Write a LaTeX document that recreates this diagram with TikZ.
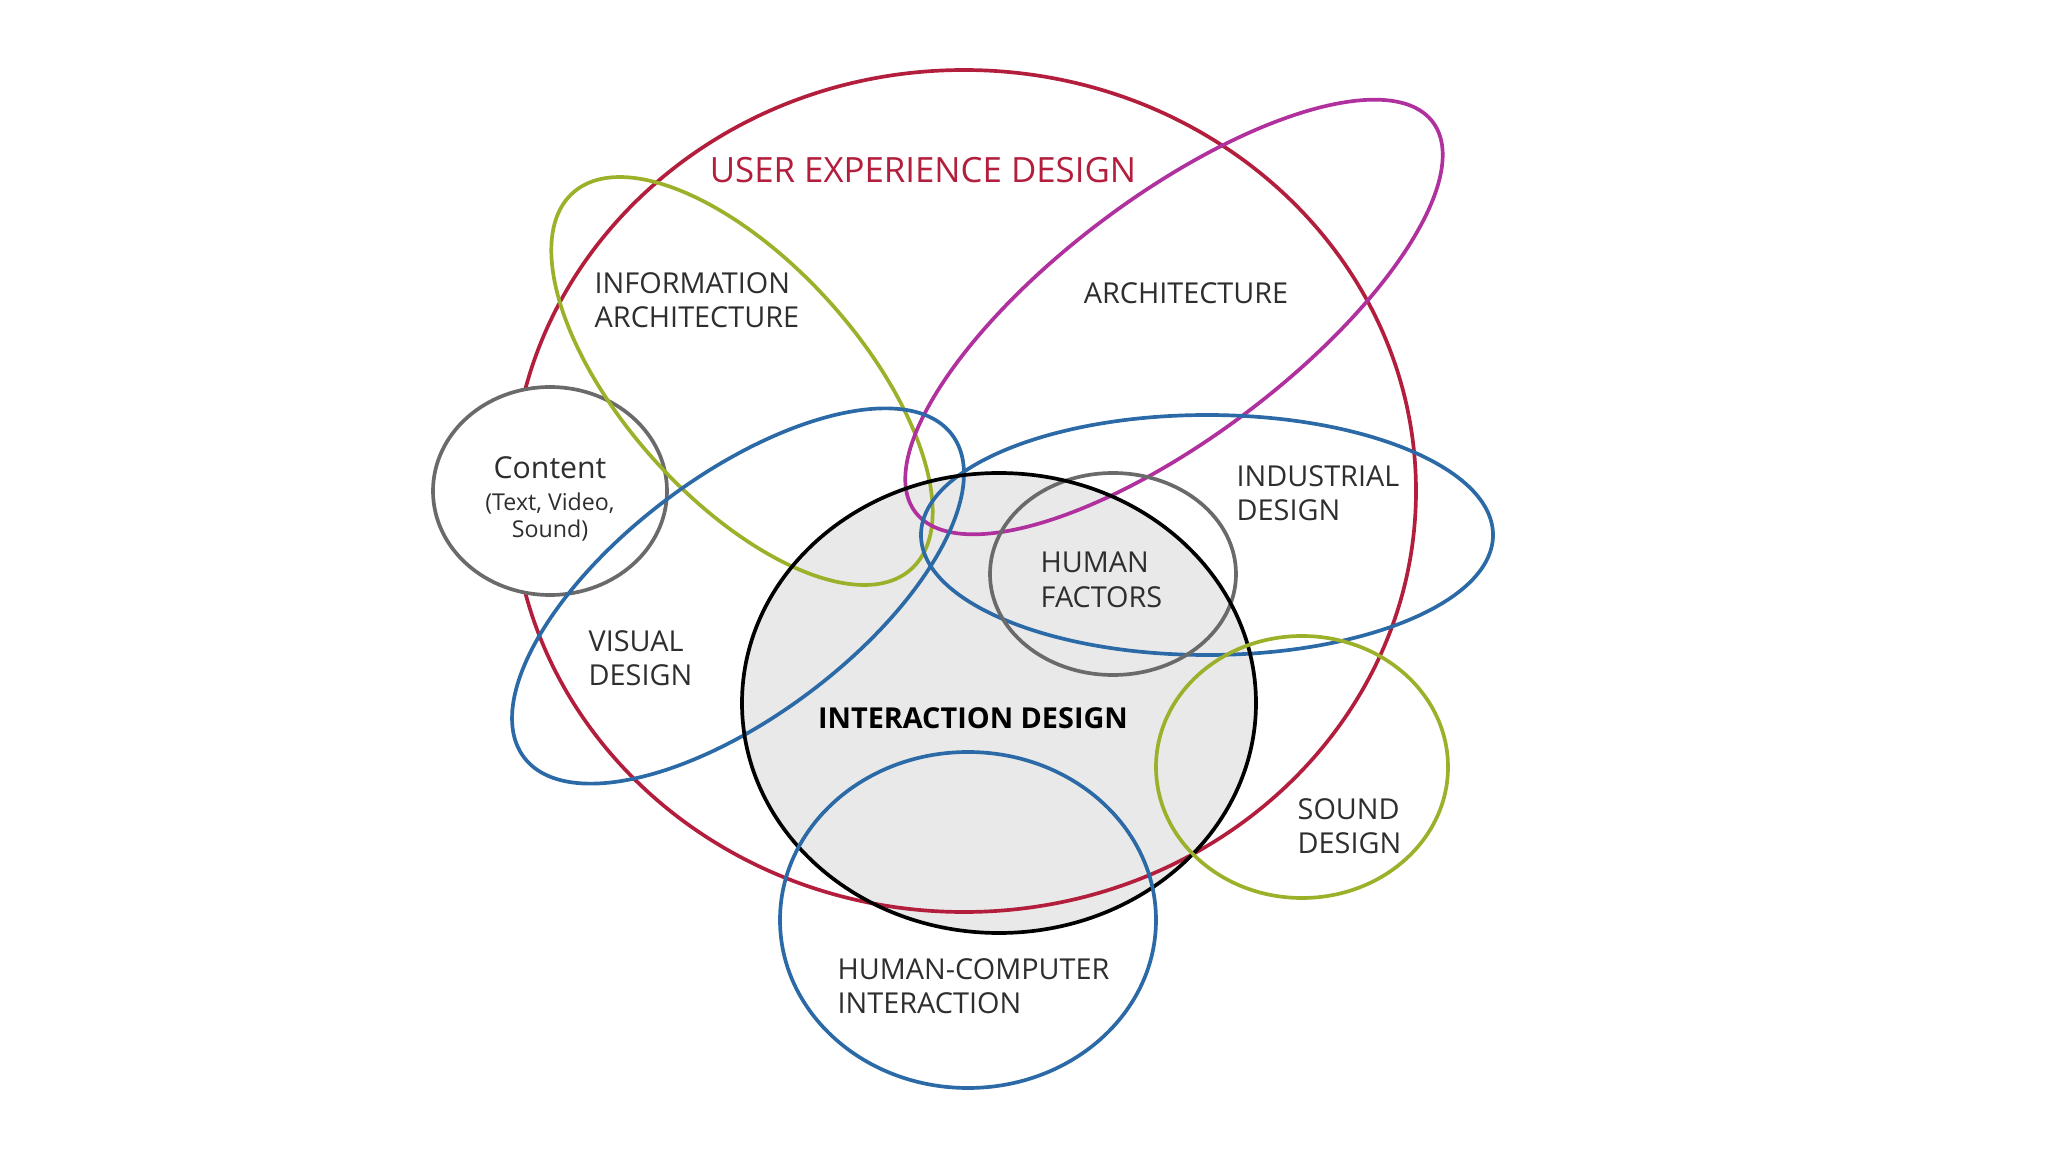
\documentclass[tikz,border=0pt]{standalone}
\usepackage{fontspec}
\setmainfont{Open Sans}
\usetikzlibrary{positioning}
\definecolor{uxred}{HTML}{B21E3C}
\definecolor{iagreen}{HTML}{9DB02A}
\definecolor{archmag}{HTML}{B0309E}
\definecolor{vdblue}{HTML}{2B6AA6}
\definecolor{ringgray}{HTML}{6A6A6A}
\definecolor{ixfill}{HTML}{E9E9E9}
\definecolor{lbl}{HTML}{2E2E2E}

\tikzset{
  ring/.style={line width=1.05pt},
  lab/.style={text=lbl,align=left,inner sep=0pt,font=\fontsize{8.2}{9.8}\selectfont},
  labc/.style={lab,align=center}
}

\begin{document}
\begin{tikzpicture}[x=1cm,y=1cm,line cap=round,line join=round]
  \useasboundingbox (0,0) rectangle (20.48,-11.52);

  % interaction design disc, filled first
  \fill[ixfill] (9.99,-7.03) ellipse [x radius=2.57,y radius=2.30];

  % the outlines
  \begin{scope}[ring]
    \draw[uxred] (9.64,-4.91) ellipse [x radius=4.52,y radius=4.21];
    % content sits on top of the ux circle
    \draw[ringgray,fill=white] (5.50,-4.91) ellipse [x radius=1.17,y radius=1.04];
    \draw[iagreen] (7.42,-3.81) ellipse [x radius=2.53,y radius=1.18,rotate=-48];
    \draw[archmag] (11.74,-3.17) ellipse [x radius=3.24,y radius=1.20,rotate=37];
    \draw[vdblue] (7.38,-5.96) ellipse [x radius=2.68,y radius=1.20,rotate=37];
    \draw[vdblue] (12.07,-5.35) ellipse [x radius=2.86,y radius=1.20];
    \draw[ringgray] (11.13,-5.74) ellipse [x radius=1.23,y radius=1.01];
    \draw[black] (9.99,-7.03) ellipse [x radius=2.57,y radius=2.30];
    \draw[iagreen] (13.02,-7.67) ellipse [x radius=1.46,y radius=1.31];
    \draw[vdblue] (9.68,-9.20) ellipse [x radius=1.88,y radius=1.68];
  \end{scope}

  % labels
  \node[text=uxred,inner sep=0pt,font=\fontsize{9.9}{11}\selectfont] (uxd) at (9.23,-1.70) {USER EXPERIENCE DESIGN};
  \node[lab,anchor=west] (infoarch) at (5.94,-3.00) {INFORMATION\\ARCHITECTURE};
  \node[lab] (arch) at (11.86,-2.93) {ARCHITECTURE};
  \node[labc] (content) at (5.50,-4.68) {\fontsize{8.6}{9}\selectfont Content};
  \node[labc,font=\fontsize{6.6}{7.8}\selectfont,below=0.12 of content] (cmedia) {(Text, Video,\\Sound)};
  \node[lab,anchor=west] (industrial) at (12.36,-4.93) {INDUSTRIAL\\DESIGN};
  \node[lab,anchor=west] (humfac) at (10.40,-5.80) {HUMAN\\FACTORS};
  \node[lab,anchor=west] (visual) at (5.88,-6.58) {VISUAL\\DESIGN};
  \node[lab,font=\fontsize{8.2}{9.8}\selectfont\bfseries,text=black] (ixd) at (9.73,-7.18) {INTERACTION DESIGN};
  \node[lab,anchor=west] (sound) at (12.97,-8.26) {SOUND\\DESIGN};
  \node[lab,anchor=west] (hci) at (8.37,-9.86) {HUMAN-COMPUTER\\INTERACTION};

\end{tikzpicture}
\end{document}
